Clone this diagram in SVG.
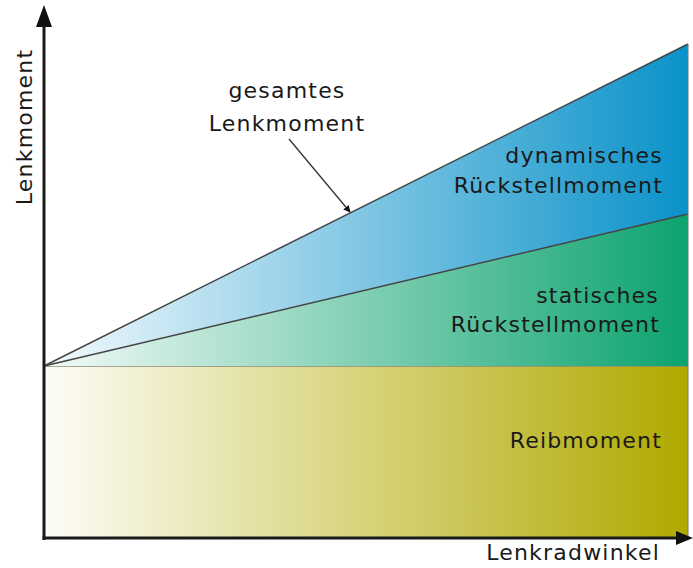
<svg xmlns="http://www.w3.org/2000/svg" width="693" height="568" viewBox="0 0 693 568">
<defs>
<linearGradient id="gReib" gradientUnits="userSpaceOnUse" x1="44" y1="0" x2="688" y2="0">
<stop offset="0" stop-color="#fdfdf6"/>
<stop offset="1" stop-color="#b0a900"/>
</linearGradient>
<linearGradient id="gStat" gradientUnits="userSpaceOnUse" x1="44" y1="0" x2="688" y2="0">
<stop offset="0" stop-color="#f4fbf8"/>
<stop offset="1" stop-color="#0ca36e"/>
</linearGradient>
<linearGradient id="gDyn" gradientUnits="userSpaceOnUse" x1="44" y1="0" x2="688" y2="0">
<stop offset="0" stop-color="#f4fafd"/>
<stop offset="1" stop-color="#0a92c9"/>
</linearGradient>
<marker id="arr" viewBox="0 0 10 10" refX="9" refY="5" markerWidth="7" markerHeight="7" orient="auto" markerUnits="userSpaceOnUse">
<path d="M0,0 L10,5 L0,10 z" fill="#111"/>
</marker>
</defs>
<style>
text{font-family:"DejaVu Sans","Liberation Sans",sans-serif;font-size:22px;fill:#1a1a1a;letter-spacing:1.2px}
.edge{stroke:#444;stroke-width:1.5;fill:none}
.axis{stroke:#1a1a1a;stroke-width:3;fill:none}
</style>
<g id="reibmoment">
<rect x="44" y="366" width="644" height="172" fill="url(#gReib)"/>
<line x1="44" y1="366" x2="688" y2="366" stroke="#8a8a7a" stroke-width="1.5"/>
<text x="662" y="448" text-anchor="end">Reibmoment</text>
</g>
<g id="statisch">
<polygon points="44,366 688,214 688,366" fill="url(#gStat)"/>
<text x="659" y="303" text-anchor="end">statisches</text>
<text x="660" y="332" text-anchor="end">Rückstellmoment</text>
</g>
<g id="dynamisch">
<polygon points="44,366 688,44 688,214" fill="url(#gDyn)"/>
<text x="663" y="163" text-anchor="end">dynamisches</text>
<text x="663" y="193" text-anchor="end">Rückstellmoment</text>
</g>
<g id="gesamt">
<text x="287" y="98" text-anchor="middle">gesamtes</text>
<text x="287" y="131" text-anchor="middle">Lenkmoment</text>
</g>
<g id="connectors">
<line class="edge" x1="44" y1="366" x2="688" y2="44"/>
<line class="edge" x1="44" y1="366" x2="688" y2="214"/>
<line x1="289" y1="139" x2="350" y2="212" stroke="#333" stroke-width="1.3" marker-end="url(#arr)"/>
<line x1="688" y1="44" x2="688" y2="538" stroke="#777" stroke-width="1"/>
</g>
<g id="axes">
<line class="axis" x1="44" y1="540" x2="44" y2="24"/>
<polygon points="44,5 36,27 52,27" fill="#111"/>
<line class="axis" x1="42.5" y1="538" x2="676" y2="538"/>
<polygon points="693,538 676,531 676,545" fill="#111"/>
<text x="660" y="560" text-anchor="end">Lenkradwinkel</text>
<text transform="translate(32,127) rotate(-90)" text-anchor="middle">Lenkmoment</text>
</g>
</svg>
